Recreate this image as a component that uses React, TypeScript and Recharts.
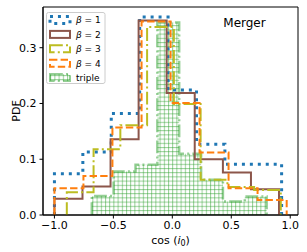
import React from 'react';
import { ComposedChart, Line, Area, XAxis, YAxis, ReferenceArea, Legend } from 'recharts';

// bin edges and heights, one histogram per case
const beta1Edges = [-1.0, -0.759, -0.518, -0.277, -0.036, 0.205, 0.446, 0.686, 0.927];
const beta1Pdf = [0.074, 0.113, 0.182, 0.355, 0.224, 0.127, 0.091, 0.091];

const beta2Edges = [-1.0, -0.762, -0.524, -0.286, -0.048, 0.19, 0.429, 0.667, 0.905];
const beta2Pdf = [0.029, 0.051, 0.136, 0.349, 0.219, 0.1, 0.076, 0.046];

const beta3Edges = [-0.895, -0.668, -0.441, -0.214, 0.013, 0.24, 0.467, 0.694, 0.92];
const beta3Pdf = [0.041, 0.118, 0.161, 0.337, 0.199, 0.063, 0.05, 0.045];

const beta4Edges = [-1.0, -0.754, -0.508, -0.261, -0.015, 0.231, 0.477, 0.723, 0.97];
const beta4Pdf = [0.048, 0.07, 0.157, 0.347, 0.201, 0.112, 0.048, 0.027];

const tripleEdges = [-0.683, -0.498, -0.312, -0.127, 0.058, 0.244, 0.429, 0.615, 0.8];
const triplePdf = [0.034, 0.078, 0.09, 0.345, 0.11, 0.063, 0.024, 0.033];

const xTicks = [-1, -0.5, 0, 0.5, 1];
const yTicks = [0, 0.1, 0.2, 0.3];
const xDomain = [-1.097, 1.066];
const yDomain = [0, 0.373];

const FONT = '"DejaVu Sans", sans-serif';
const BLUE = '#1f77b4';
const BROWN = '#8c564b';
const OLIVE = '#bcbd22';
const ORANGE = '#ff7f0e';
const GREEN = '#2ca02c';

const DOTTED = '3 4.95';
const DASHED = '7.4 3.2';
const DASHDOT = '12.8 3.2 2 3.2';

// outline of a step histogram: up from the first edge, down at the last
function stepPoints(edges: number[], pdf: number[]) {
  const pts = [{ x: edges[0], y: 0 }];
  pdf.forEach((v, i) => pts.push({ x: edges[i], y: v }));
  pts.push({ x: edges[edges.length - 1], y: pdf[pdf.length - 1] });
  pts.push({ x: edges[edges.length - 1], y: 0 });
  return pts;
}

const fmt = (v: number) => v.toFixed(1).replace('-', '\u2212');

const legendItems = [
  { label: '1', stroke: BLUE, dash: DOTTED, width: 3 },
  { label: '2', stroke: BROWN, dash: undefined, width: 2 },
  { label: '3', stroke: OLIVE, dash: DASHDOT, width: 2 },
  { label: '4', stroke: ORANGE, dash: DASHED, width: 2 },
];

function LegendBox() {
  const rowY = (i: number) => 8 + i * 14.4;
  return (
    <svg width={60} height={73} style={{ display: 'block', fontFamily: FONT }}>
      <rect x={0.5} y={0.5} width={58.5} height={71} rx={2} fill="#fff" fillOpacity={0.8} stroke="#ccc" />
      {legendItems.map((it, i) => (
        <g key={it.label}>
          <rect x={4} y={rowY(i) - 3.5} width={20} height={7} fill="none" stroke={it.stroke}
            strokeWidth={it.width} strokeDasharray={it.dash} />
          <text x={30} y={rowY(i) + 3.3} fontSize={9} fill="#000">
            <tspan fontStyle="italic">β</tspan> = {it.label}
          </text>
        </g>
      ))}
      <rect x={4} y={rowY(4) - 3.5} width={20} height={7} fill="url(#hatch)" stroke={GREEN}
        strokeOpacity={0.5} strokeWidth={2} strokeDasharray={DASHDOT} />
      <text x={30} y={rowY(4) + 3.3} fontSize={9} fill="#000">triple</text>
    </svg>
  );
}

export default function App() {
  return (
    <div style={{ position: 'absolute', left: 0, top: 0, width: 307, height: 252, background: '#fff' }}>
      <svg width={0} height={0} style={{ position: 'absolute' }}>
        <defs>
          <pattern id="hatch" width={4.2} height={4.2} patternUnits="userSpaceOnUse">
            <line x1={0} y1={0.5} x2={4.2} y2={0.5} stroke={GREEN} strokeOpacity={0.5} strokeWidth={1} />
            <line x1={0.5} y1={0} x2={0.5} y2={4.2} stroke={GREEN} strokeOpacity={0.5} strokeWidth={1} />
          </pattern>
        </defs>
      </svg>
      <ComposedChart width={307} height={252} margin={{ top: 7, right: 9, bottom: 0, left: 0 }}
        style={{ fontFamily: FONT }}>
        <XAxis type="number" dataKey="x" domain={xDomain} ticks={xTicks} tickFormatter={fmt}
          allowDataOverflow height={37} tickSize={3.5} tickMargin={3}
          stroke="#000" tick={{ fill: '#000', fontSize: 11 }}
          label={{
            content: ({ viewBox }: any) => (
              <text x={viewBox.x + viewBox.width / 2} y={243.5} textAnchor="middle" fontSize={11} fill="#000">
                cos (<tspan fontStyle="italic">i</tspan><tspan fontSize={8} dy={2.5}>0</tspan><tspan dy={-2.5}>)</tspan>
              </text>
            ),
          }} />
        <YAxis type="number" domain={yDomain} ticks={yTicks} tickFormatter={fmt} allowDataOverflow
          width={43} tickSize={3.5} tickMargin={3} stroke="#000" tick={{ fill: '#000', fontSize: 11 }}
          label={{
            content: ({ viewBox }: any) => {
              const cy = viewBox.y + viewBox.height / 2;
              return (
                <text x={19.5} y={cy} transform={`rotate(-90, 19.5, ${cy})`} textAnchor="middle"
                  fontSize={11} fill="#000">PDF</text>
              );
            },
          }} />
        <Line data={stepPoints(beta1Edges, beta1Pdf)} dataKey="y" type="stepAfter" stroke={BLUE}
          strokeWidth={3} strokeDasharray={DOTTED} dot={false} isAnimationActive={false} />
        <Line data={stepPoints(beta2Edges, beta2Pdf)} dataKey="y" type="stepAfter" stroke={BROWN}
          strokeWidth={2} dot={false} isAnimationActive={false} />
        <Line data={stepPoints(beta3Edges, beta3Pdf)} dataKey="y" type="stepAfter" stroke={OLIVE}
          strokeWidth={2} strokeDasharray={DASHDOT} dot={false} isAnimationActive={false} />
        <Line data={stepPoints(beta4Edges, beta4Pdf)} dataKey="y" type="stepAfter" stroke={ORANGE}
          strokeWidth={2} strokeDasharray={DASHED} dot={false} isAnimationActive={false} />
        <Area data={stepPoints(tripleEdges, triplePdf)} dataKey="y" type="stepAfter" fill="url(#hatch)"
          fillOpacity={1} stroke={GREEN} strokeOpacity={0.5} strokeWidth={2.5} strokeDasharray={DASHDOT}
          dot={false} activeDot={false} isAnimationActive={false} />
        <ReferenceArea x1={xDomain[0]} x2={xDomain[1]} y1={yDomain[0]} y2={yDomain[1]} ifOverflow="visible"
          fill="none" fillOpacity={0} stroke="#000" strokeWidth={1} />
        <Legend layout="horizontal" verticalAlign="middle" align="center" content={() => <LegendBox />}
          wrapperStyle={{ left: 46, top: 12, width: 60, height: 73 }} />
        <text x={244.5} y={27.2} textAnchor="middle" fontSize={12} fill="#000" fontFamily={FONT}>Merger</text>
      </ComposedChart>
    </div>
  );
}
